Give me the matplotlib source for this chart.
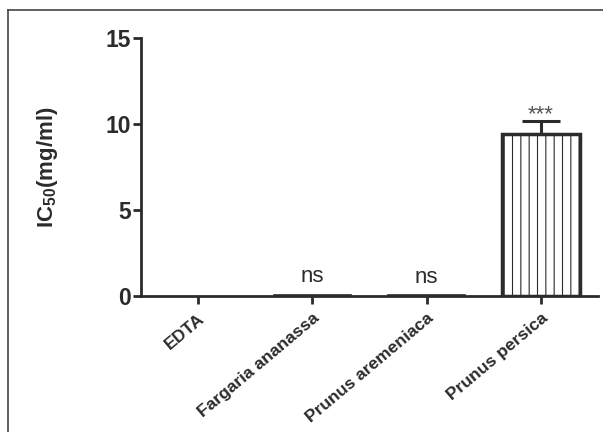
import numpy as np
import matplotlib
matplotlib.use("Agg")
import matplotlib.pyplot as plt
from matplotlib.lines import Line2D

# datos
categorias = ["EDTA", "Fargaria ananassa", "Prunus aremeniaca", "Prunus persica"]
ic50 = [0.0, 0.05, 0.03, 9.4]
error = [0.0, 0.0, 0.0, 0.75]
signif = ["", "ns", "ns", "***"]
yticks = [0, 5, 10, 15]

plt.rcParams["font.family"] = ["Liberation Sans", "DejaVu Sans"]
plt.rcParams["mathtext.fontset"] = "custom"
plt.rcParams["mathtext.rm"] = "Liberation Sans:bold"
plt.rcParams["mathtext.bf"] = "Liberation Sans:bold"
plt.rcParams["hatch.linewidth"] = 0.8
plt.rcParams["hatch.color"] = "#2b2b2b"

oscuro = "#2b2b2b"

fig = plt.figure(figsize=(6.03, 4.32), dpi=100)
ax = fig.add_axes([0.2338, 0.3148, 0.9917 - 0.2338, 0.912 - 0.3148])

x = np.arange(len(categorias))
for i in range(len(categorias)):
    if ic50[i] <= 0:
        continue
    ax.bar(x[i], ic50[i], width=0.68, color="white", edgecolor=oscuro,
           linewidth=2.5 if i == 3 else 1.2, hatch="||" if i == 3 else None, zorder=2)
    if error[i] > 0:
        ax.errorbar(x[i], ic50[i], yerr=[[0], [error[i]]], fmt="none",
                    ecolor=oscuro, elinewidth=2.2, capsize=14, capthick=2.2, zorder=3)

# marcas de significancia
for i, s in enumerate(signif):
    if s == "ns":
        ax.text(x[i], ic50[i] + 0.75, s, ha="center", va="baseline", fontsize=16, color=oscuro)
    elif s:
        ax.text(x[i], ic50[i] + error[i] + 0.05, s, ha="center", va="baseline", fontsize=16, color="#555555")

ax.set_xlim(-0.5, 3.5)
ax.set_ylim(0, 15)
ax.set_yticks(yticks)
ax.set_xticks(x)
ax.set_xticklabels(categorias, rotation=40, ha="right", rotation_mode="anchor",
                   fontsize=12.6, fontweight="bold", color=oscuro)
for lab in ax.get_yticklabels():
    lab.set_fontweight("bold")
    lab.set_fontsize(16.5)
    lab.set_color(oscuro)

for lado in ["top", "right"]:
    ax.spines[lado].set_visible(False)
for lado in ["left", "bottom"]:
    ax.spines[lado].set_linewidth(2.0)
    ax.spines[lado].set_color(oscuro)
ax.tick_params(axis="y", length=6, width=2.0, color=oscuro, pad=1)
ax.tick_params(axis="x", length=5.5, width=2.0, color=oscuro, pad=5)

ax.set_ylabel(r"IC$_{50}$(mg/ml)", fontsize=16, fontweight="bold", color=oscuro, labelpad=33)

# marco exterior de la figura
fig.add_artist(Line2D([8 / 603, 8 / 603], [0, 1 - 10 / 432], transform=fig.transFigure,
                      color="#444444", linewidth=1.2))
fig.add_artist(Line2D([8 / 603, 1], [1 - 10 / 432, 1 - 10 / 432], transform=fig.transFigure,
                      color="#444444", linewidth=1.2))

fig.savefig("out.png", dpi=100)
